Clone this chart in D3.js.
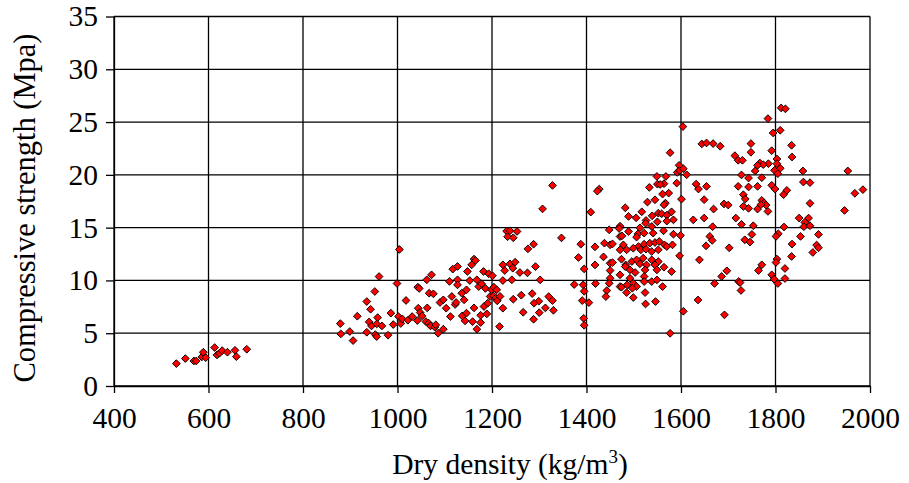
<!DOCTYPE html>
<html>
<head>
<meta charset="utf-8">
<script src="https://cdn.jsdelivr.net/npm/d3@7"></script>
<style>
  body { margin: 0; background: #fff; }
  text { font-family: "Liberation Serif", "Times New Roman", Times, "DejaVu Serif", serif; fill: #000; }
</style>
</head>
<body>
<div id="chart"></div>
<script>
// tick values
const xTicks = [400, 600, 800, 1000, 1200, 1400, 1600, 1800, 2000];
const yTicks = [0, 5, 10, 15, 20, 25, 30, 35];

// dry density (kg/m3)
const density = [
  532, 551, 569, 574, 586, 589, 594, 613, 618, 623, 629, 640, 656, 659, 681,
  879, 880, 899, 906, 915, 935, 935, 940, 943, 945, 952, 953, 956, 958, 956, 961, 967, 980, 986, 991,
  999, 1002, 1004, 1007, 1010, 1018, 1022, 1031, 1042, 1043, 1046, 1044, 1048, 1052, 1062, 1060, 1063,
  1067, 1066, 1070, 1072, 1076, 1079, 1081, 1086, 1090, 1097, 1097, 1103, 1110, 1112, 1115, 1117, 1122,
  1124, 1127, 1127, 1127, 1136, 1137, 1141, 1143, 1146, 1148, 1146, 1153, 1157, 1159, 1162, 1165, 1162,
  1168, 1168, 1172, 1176, 1176, 1178, 1182, 1183, 1186, 1189, 1191, 1193, 1196, 1201, 1199, 1203, 1204,
  1208, 1210, 1211, 1216, 1217, 1223, 1223, 1223, 1227, 1231, 1233, 1238, 1238, 1242, 1244, 1245, 1245,
  1249, 1253,
  1577, 1596, 1592, 1597, 1605, 1612, 1549, 1568, 1550, 1564, 1556, 1591, 1533, 1632, 1328, 1427, 1423,
  1574, 1561, 1545, 1529, 1601, 1567, 1564, 1307, 1482, 1409, 1517, 1552, 1559, 1580, 1570, 1489, 1505,
  1539, 1526, 1570, 1584, 1626, 1550, 1525, 1471, 1469, 1513, 1538, 1563, 1448, 1489, 1509, 1522, 1541,
  1584, 1599, 1471, 1506, 1475, 1347, 1388, 1438, 1450, 1455, 1418, 1478, 1485, 1510, 1522, 1534, 1545,
  1554, 1565, 1570, 1582, 1471, 1499, 1515, 1526, 1538, 1552, 1276, 1288, 1383, 1436, 1474, 1496, 1506,
  1520, 1538, 1552, 1597, 1639, 1450, 1455, 1483, 1513, 1527, 1545, 1418, 1395, 1450, 1471, 1482, 1492,
  1503, 1524, 1549, 1564, 1580, 1292, 1259, 1275, 1302, 1450, 1492, 1522, 1374, 1393, 1419, 1448, 1471,
  1486, 1499, 1506, 1522, 1538, 1549, 1561, 1474, 1497, 1485, 1499, 1524, 1443, 1395, 1441, 1391, 1405,
  1525, 1546, 1262, 1285, 1320, 1328, 1299, 1289, 1313, 1330, 1300, 1266, 1288, 1605, 1636, 1394, 1395,
  1577,
  1604, 1812, 1821, 1784, 1795, 1810, 1644, 1654, 1668, 1683, 1748, 1748, 1792, 1834, 1835, 1714, 1721,
  1730, 1803, 1767, 1785, 1774, 1762, 1803, 1810, 1757, 1798, 1805, 1858, 1953, 1728, 1743, 1771, 1792,
  1799, 1859, 1873, 1637, 1654, 1721, 1743, 1762, 1824, 1817, 1968, 1985, 1732, 1736, 1649, 1691, 1700,
  1771, 1776, 1780, 1769, 1732, 1743, 1762, 1784, 1873, 1669, 1946, 1716, 1728, 1753, 1649, 1667, 1850,
  1870, 1862, 1860, 1873, 1818, 1750, 1806, 1801, 1853, 1891, 1661, 1666, 1735, 1746, 1653, 1702, 1835,
  1887, 1891, 1879, 1834, 1803, 1801, 1771, 1764, 1820, 1697, 1686, 1792, 1797, 1820, 1805, 1722, 1725,
  1671, 1727, 1692
];

// compressive strength (MPa), same order as density
const strength = [
  2.12, 2.6, 2.37, 2.37, 2.75, 3.2, 2.69, 3.64, 2.94, 3.1, 3.35, 3.2, 3.38, 2.78, 3.48,
  5.91, 4.93, 5.16, 4.3, 6.61, 8.0, 5.09, 6.07, 7.27, 5.69, 8.95, 4.87, 5.88, 6.48, 4.68, 10.37, 5.69, 4.81, 6.9, 5.82,
  9.71, 6.58, 12.93, 5.92, 6.36, 8.1, 6.23, 6.58, 6.2, 9.36, 9.24, 7.37, 6.96, 6.64, 10.06, 6.1, 7.4,
  8.79, 5.95, 5.69, 10.53, 8.73, 5.57, 5.79, 5.0, 7.91, 5.38, 8.16, 7.37, 9.9, 6.58, 8.48, 11.07, 7.72,
  7.91, 10.06, 11.32, 9.58, 8.79, 6.64, 8.16, 6.17, 6.9, 10.85, 9.11, 9.99, 11.48, 6.1, 12.02, 11.89, 7.4,
  5.38, 10.06, 9.42, 6.7, 6.01, 9.68, 10.85, 7.53, 9.24, 6.83, 7.84, 10.63, 8.48, 10.44, 9.11, 8.54, 9.36,
  8.32, 9.11, 8.07, 5.63, 8.48, 11.48, 7.37, 9.99, 10.94, 14.67, 14.14, 14.7, 11.57, 10.06, 11.16, 14.04, 8.22,
  11.73, 14.64,
  22.1, 20.9, 20.23, 20.42, 20.58, 20.01, 19.85, 19.85, 19.12, 19.16, 19.09, 19.22, 18.81, 19.12, 19.0, 18.65, 18.46,
  18.27, 18.18, 17.64, 17.42, 17.7, 17.32, 17.16, 16.78, 16.88, 16.47, 16.5, 16.37, 16.31, 16.5, 16.18, 16.06, 15.93,
  16.12, 15.68, 15.62, 15.74, 15.74, 15.55, 15.42, 15.14, 14.92, 14.98, 15.11, 14.7, 14.79, 14.63, 14.41, 14.48, 14.48,
  14.38, 14.26, 14.16, 14.1, 14.22, 14.03, 13.43, 13.53, 13.37, 13.46, 13.18, 13.37, 12.9, 13.21, 13.43, 13.53, 13.59,
  13.69, 13.37, 13.21, 13.37, 12.9, 13.05, 12.9, 12.96, 12.74, 12.9, 12.99, 13.43, 12.17, 12.23, 12.01, 11.79, 11.95,
  12.11, 11.95, 11.79, 12.33, 11.95, 11.63, 11.69, 11.47, 11.57, 11.47, 11.47, 11.47, 11.09, 10.94, 10.53, 11.31, 11.0,
  10.75, 11.0, 11.0, 11.25, 10.84, 11.31, 10.75, 10.72, 10.05, 10.21, 10.21, 10.37, 9.61, 9.58, 9.7, 9.73, 9.42,
  9.58, 9.73, 9.42, 9.89, 9.89, 10.05, 9.42, 9.36, 9.26, 8.85, 8.38, 8.85, 9.04, 8.97, 8.47, 8.09, 7.9,
  7.77, 8.0, 8.6, 8.75, 8.47, 8.09, 8.03, 7.84, 7.4, 7.17, 6.95, 6.98, 6.32, 7.08, 8.15, 6.41, 5.75,
  4.99,
  24.57, 26.34, 26.25, 25.33, 23.97, 24.22, 22.93, 23.02, 22.96, 22.71, 22.96, 22.14, 22.29, 22.8, 21.69, 21.82, 21.38,
  21.38, 21.5, 21.12, 21.06, 20.97, 20.9, 21.06, 20.62, 20.37, 20.43, 20.11, 20.37, 20.37, 19.99, 19.7, 19.73, 19.01,
  18.66, 19.32, 19.26, 18.66, 18.91, 18.91, 18.85, 18.91, 18.53, 18.12, 18.25, 18.6, 18.12, 17.71, 17.65, 17.24, 17.14,
  17.58, 17.33, 17.14, 17.17, 17.01, 16.83, 16.76, 16.54, 17.3, 16.76, 16.63, 15.91, 15.31, 15.18, 15.91, 15.09, 15.91,
  15.91, 15.5, 15.09, 15.18, 15.06, 14.36, 14.42, 14.17, 14.17, 14.36, 14.17, 13.79, 13.85, 13.63, 13.28, 13.09, 13.44,
  13.35, 13.09, 12.65, 12.27, 12.02, 11.7, 11.48, 10.94, 11.13, 10.91, 10.38, 10.53, 10.12, 10.18, 9.71, 9.9, 9.8,
  9.71, 9.05, 6.74
];

// layout
const fullWidth = 909;
const fullHeight = 483;
const plot = { left: 114, right: 870, top: 16.5, bottom: 386 };
const FONT = '"Liberation Serif", "Times New Roman", Times, "DejaVu Serif", serif';

const svg = d3.select('#chart').append('svg')
  .attr('width', fullWidth)
  .attr('height', fullHeight)
  .attr('font-family', FONT);

svg.append('rect')
  .attr('width', fullWidth)
  .attr('height', fullHeight)
  .attr('fill', '#fff');

const x = d3.scaleLinear().domain([400, 2000]).range([plot.left, plot.right]);
const y = d3.scaleLinear().domain([0, 35]).range([plot.bottom, plot.top]);

// grid lines
const grid = svg.append('g').attr('class', 'grid')
  .attr('stroke', '#000')
  .attr('stroke-width', 1.3);

grid.selectAll('.vgrid').data(xTicks).enter().append('line')
  .attr('x1', d => x(d)).attr('x2', d => x(d))
  .attr('y1', plot.top).attr('y2', plot.bottom);

grid.selectAll('.hgrid').data(yTicks).enter().append('line')
  .attr('x1', plot.left).attr('x2', plot.right)
  .attr('y1', d => y(d)).attr('y2', d => y(d));

// axes
const xAxisG = svg.append('g')
  .attr('transform', `translate(0,${plot.bottom})`)
  .call(d3.axisBottom(x).tickValues(xTicks).tickFormat(d3.format('d'))
    .tickSize(7).tickPadding(14).tickSizeOuter(0));

const yAxisG = svg.append('g')
  .attr('transform', `translate(${plot.left},0)`)
  .call(d3.axisLeft(y).tickValues(yTicks).tickFormat(d3.format('d'))
    .tickSize(8).tickPadding(8).tickSizeOuter(0));

[xAxisG, yAxisG].forEach(a => {
  a.attr('font-family', FONT).attr('font-size', 29.5);
  a.selectAll('path, line').attr('stroke', '#000').attr('stroke-width', 1.3);
  a.selectAll('text').attr('fill', '#000');
});

// points
const points = density.map((d, i) => ({ density: d, strength: strength[i] }));

svg.append('g').selectAll('.pt').data(points).enter().append('path')
  .attr('class', 'pt')
  .attr('d', d3.symbol(d3.symbolSquare, 30))
  .attr('transform', d => `translate(${x(d.density)},${y(d.strength)}) rotate(45)`)
  .attr('fill', '#ff0000')
  .attr('stroke', '#000')
  .attr('stroke-width', 0.9);

// axis titles
svg.append('text')
  .attr('transform', 'translate(35,208) rotate(-90)')
  .attr('text-anchor', 'middle')
  .attr('font-size', 30.5)
  .text('Compressive strength (Mpa)');

const xt = svg.append('text')
  .attr('x', 510)
  .attr('y', 474)
  .attr('text-anchor', 'middle')
  .attr('font-size', 29.5);
xt.append('tspan').text('Dry density (kg/m');
xt.append('tspan').attr('dy', -11).attr('font-size', 19).text('3');
xt.append('tspan').attr('dy', 11).text(')');
</script>
</body>
</html>
